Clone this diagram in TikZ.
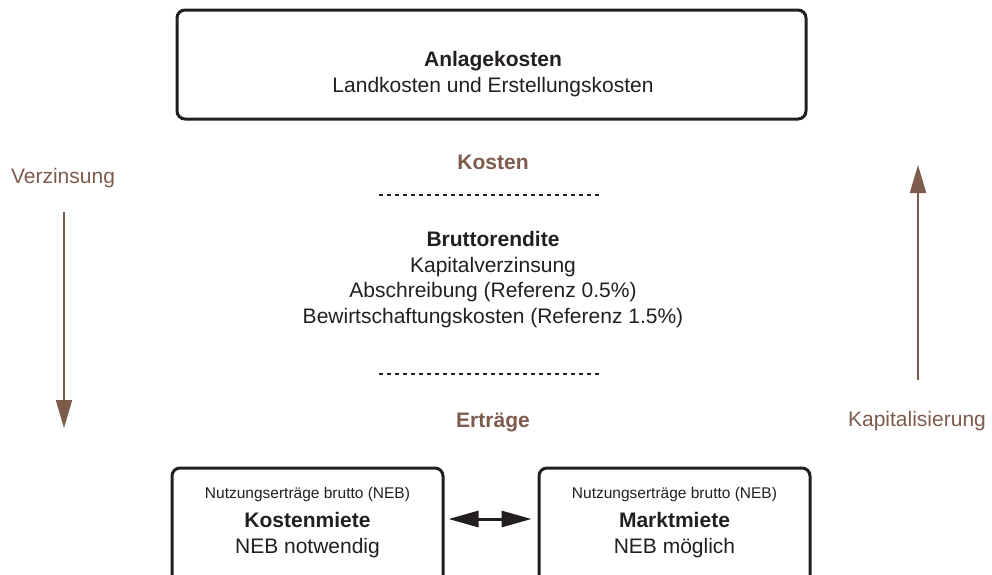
\documentclass[tikz,border=0pt]{standalone}
\usepackage{fontspec}
\setmainfont{Liberation Sans}
\usetikzlibrary{arrows.meta}
\definecolor{brn}{HTML}{7E5C4D}
\definecolor{ink}{HTML}{231F20}
\begin{document}
\begin{tikzpicture}[x=1pt,y=-1pt,
 box/.style={draw=ink, line width=3pt, rounded corners=8pt, inner sep=0pt},
 txt/.style={inner sep=0pt, anchor=base, text=ink, font=\fontsize{21}{25}\selectfont},
 btxt/.style={txt, font=\fontsize{21}{25}\selectfont\bfseries},
 stxt/.style={txt, font=\fontsize{15.5}{18}\selectfont},
 lbl/.style={inner sep=0pt, anchor=base, text=brn, font=\fontsize{21}{25}\selectfont},
 blbl/.style={lbl, font=\fontsize{21}{25}\selectfont\bfseries},
 flow/.style={draw=brn, line width=2pt, -{Triangle[length=28pt,width=16pt]}},
 both/.style={draw=ink, line width=3pt, {Triangle[length=30pt,width=16pt]}-{Triangle[length=30pt,width=16pt]}},
 sep/.style={draw=ink, line width=2.6pt, dash pattern=on 4.2pt off 3.8pt}
]
\useasboundingbox (0,0) rectangle (992,574);
\clip (0,0) rectangle (992,574);
\fill[white] (0,0) rectangle (992,574);

% top box
\node[box, minimum width=629pt, minimum height=109pt] (ak) at (491.5,64.5) {};
\node[btxt] (akt) at (493,66) {Anlagekosten};
\node[txt] (aks) at (493,92) {Landkosten und Erstellungskosten};

% middle
\node[blbl] (kos) at (493,169) {Kosten};
\coordinate (d1a) at (379,195);
\coordinate (d1b) at (602,195);
\draw[sep] (d1a) -- (d1b);
\node[btxt] (br) at (493,246) {Bruttorendite};
\node[txt] (br1) at (493,272) {Kapitalverzinsung};
\node[txt] (br2) at (493,297) {Abschreibung (Referenz 0.5\%)};
\node[txt] (br3) at (493,323) {Bewirtschaftungskosten (Referenz 1.5\%)};
\coordinate (d2a) at (379,374);
\coordinate (d2b) at (602,374);
\draw[sep] (d2a) -- (d2b);
\node[blbl] (ert) at (493,427) {Erträge};

% side arrows
\node[lbl] (verz) at (63,183) {Verzinsung};
\coordinate (va) at (64,212);
\coordinate (vb) at (64,428);
\draw[flow] (va) -- (vb);
\node[lbl] (kap) at (917,426) {Kapitalisierung};
\coordinate (ka) at (918,380);
\coordinate (kb) at (918,165);
\draw[flow] (ka) -- (kb);

% bottom boxes
\node[box, minimum width=271pt, minimum height=152pt] (km) at (307.5,544) {};
\node[stxt] (km0) at (307.5,498) {Nutzungserträge brutto (NEB)};
\node[btxt] (km1) at (307.5,527) {Kostenmiete};
\node[txt] (km2) at (307.5,553) {NEB notwendig};

\node[box, minimum width=271pt, minimum height=152pt] (mm) at (674.5,544) {};
\node[stxt] (mm0) at (674.5,498) {Nutzungserträge brutto (NEB)};
\node[btxt] (mm1) at (674.5,527) {Marktmiete};
\node[txt] (mm2) at (674.5,553) {NEB möglich};

\coordinate (ea) at (km.east |- 0,519);
\coordinate (eb) at (mm.west |- 0,519);
\draw[both, shorten <=4pt, shorten >=6pt] (ea) -- (eb);
\end{tikzpicture}
\end{document}
